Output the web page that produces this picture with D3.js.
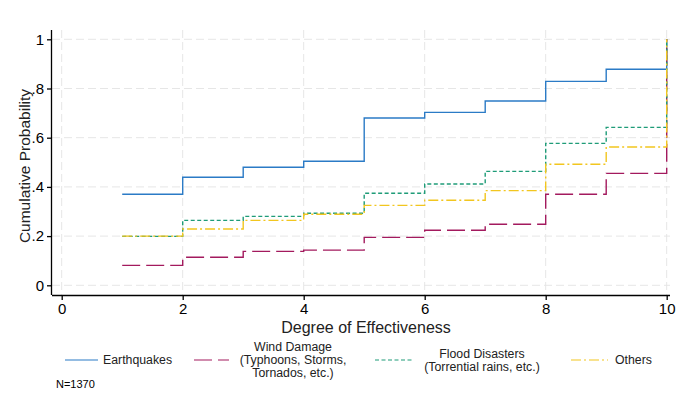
<!DOCTYPE html>
<html><head><meta charset="utf-8">
<script src="https://cdn.jsdelivr.net/npm/d3@7"></script>
<style>body{margin:0;background:#fff}svg{display:block;font-family:"Liberation Sans",Arial,sans-serif}</style>
</head><body><svg id="c" width="680" height="395"></svg>
<script>
const degrees = [1,2,3,4,5,6,7,8,9,10];
const earthquakes = [0.370,0.439,0.480,0.504,0.680,0.703,0.749,0.829,0.878,1.0];
const windDamage  = [0.081,0.114,0.138,0.143,0.195,0.224,0.248,0.370,0.455,1.0];
const flood       = [0.199,0.264,0.280,0.293,0.374,0.412,0.463,0.577,0.642,1.0];
const others      = [0.200,0.229,0.264,0.289,0.325,0.346,0.385,0.492,0.562,1.0];
const xTicks = [0,2,4,6,8,10];
const yTicks = [0,0.2,0.4,0.6,0.8,1];
const yTickLabels = ["0",".2",".4",".6",".8","1"];
const seriesNames = [["Earthquakes"],["Wind Damage","(Typhoons, Storms,","Tornados, etc.)"],["Flood Disasters","(Torrential rains, etc.)"],["Others"]];

const series = [
  {vals: earthquakes, color:"#2b7bc6", dash:null},
  {vals: windDamage, color:"#a31a5e", dash:"18,6"},
  {vals: flood, color:"#1f9c78", dash:"4,2.5"},
  {vals: others, color:"#f2c61f", dash:"10,3,2,3"}
];

const svg = d3.select("#c");
const L=52, R=670, T=30, B=295;
const x = d3.scaleLinear().domain([0,10]).range([61.7,666.7]);
const y = d3.scaleLinear().domain([0,1]).range([285.3,39.3]);

// grid
const g = svg.append("g");
g.selectAll(".gy").data(yTicks).enter().append("line")
  .attr("x1",L).attr("x2",R).attr("y1",d=>y(d)).attr("y2",d=>y(d))
  .attr("stroke","#e6e6e6").attr("stroke-width",1).attr("stroke-dasharray","8,4");
g.selectAll(".gx").data(xTicks).enter().append("line")
  .attr("y1",T).attr("y2",B).attr("x1",d=>x(d)).attr("x2",d=>x(d))
  .attr("stroke","#e6e6e6").attr("stroke-width",1).attr("stroke-dasharray","8,4");

// lines
const line = d3.line().x((d,i)=>x(degrees[i])).y(d=>y(d)).curve(d3.curveStepAfter);
series.forEach(s=>{
  svg.append("path").attr("d",line(s.vals)).attr("fill","none")
    .attr("stroke",s.color).attr("stroke-width",1.4)
    .attr("stroke-dasharray",s.dash);
});

// axes
const xAxis = d3.axisBottom(x).tickValues(xTicks).tickSize(5).tickPadding(3).tickFormat(d3.format("d"));
const xa = svg.append("g").attr("transform",`translate(0,${B})`).call(xAxis);
xa.select(".domain").attr("d",`M${L},0.5H${R}`);
const yAxis = d3.axisLeft(y).tickValues(yTicks).tickSize(5).tickPadding(3).tickFormat((d,i)=>yTickLabels[i]);
const ya = svg.append("g").attr("transform",`translate(${L},0)`).call(yAxis);
ya.select(".domain").attr("d",`M-0.5,${T}V${B}`);
[xa,ya].forEach(a=>{
  a.selectAll("text").attr("font-size",15).attr("fill","#000").attr("font-family","Liberation Sans, Arial, sans-serif");
  a.selectAll("line,path").attr("stroke","#000").attr("stroke-width",1.3);
});

svg.append("text").attr("x",366).attr("y",333).attr("text-anchor","middle")
  .attr("font-size",16).attr("fill","#222").text("Degree of Effectiveness");
svg.append("text").attr("transform","translate(30,166) rotate(-90)").attr("text-anchor","middle")
  .attr("font-size",15.5).attr("fill","#222").text("Cumulative Probability");

// legend
const leg = [
  {x1:65, x2:98, tx:103, anchor:"start", ty:[364]},
  {x1:194, x2:229, tx:293, anchor:"middle", ty:[351,364,377]},
  {x1:375, x2:412, tx:482, anchor:"middle", ty:[358,371]},
  {x1:571, x2:608, tx:615, anchor:"start", ty:[364]}
];
leg.forEach((l,i)=>{
  svg.append("line").attr("x1",l.x1).attr("x2",l.x2).attr("y1",360).attr("y2",360)
    .attr("stroke",series[i].color).attr("stroke-width",1.2).attr("stroke-dasharray",series[i].dash);
  seriesNames[i].forEach((t,j)=>{
    svg.append("text").attr("x",l.tx).attr("y",l.ty[j]).attr("text-anchor",l.anchor)
      .attr("font-size",12.3).attr("fill","#222").text(t);
  });
});
svg.append("text").attr("x",56).attr("y",388).attr("font-size",11).attr("fill","#000").text("N=1370");
</script></body></html>
